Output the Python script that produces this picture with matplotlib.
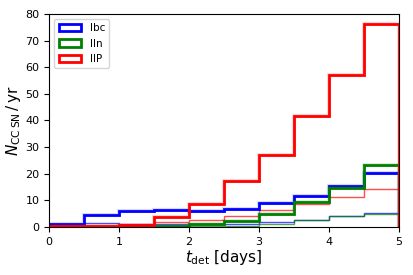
import numpy as np
import matplotlib
matplotlib.use('Agg')
import matplotlib.pyplot as plt

# bin edges for detection time (days)
edges = np.arange(0, 5.01, 0.5)
centers = 0.5 * (edges[1:] + edges[:-1])

# thick histograms
ibc = [1.1, 4.3, 5.8, 6.3, 5.8, 6.8, 8.8, 11.5, 15.4, 20.1]
iin = [0.1, 0.1, 0.2, 0.5, 1.0, 2.2, 4.8, 9.2, 14.5, 23.1]
iip = [0.2, 0.2, 0.7, 3.6, 8.7, 17.1, 27.2, 41.5, 56.9, 76.2]

# thin histograms
ibc_thin = [1.1, 1.4, 0.9, 0.9, 1.1, 1.2, 1.8, 2.5, 4.0, 5.1]
iin_thin = [0.0, 0.0, 0.1, 0.2, 0.3, 0.5, 0.9, 2.5, 3.9, 5.0]
iip_thin = [0.0, 0.1, 0.3, 1.8, 2.6, 4.2, 6.2, 8.7, 11.2, 14.2]

labels = ['Ibc', 'IIn', 'IIP']
colors = ['blue', 'green', 'red']

fig = plt.figure(figsize=(4.13, 2.75), dpi=100)
ax = fig.add_axes([0.119, 0.175, 0.847, 0.774])

for vals, c in zip([ibc_thin, iin_thin, iip_thin], colors):
    ax.hist(centers, bins=edges, weights=vals, histtype='step', color=c, lw=1, alpha=0.7)
for vals, c, lab in zip([ibc, iin, iip], colors, labels):
    ax.hist(centers, bins=edges, weights=vals, histtype='step', color=c, lw=3, alpha=0.15)
    ax.hist(centers, bins=edges, weights=vals, histtype='step', color=c, lw=2, label=lab)

ax.set_xlim(0, 5)
ax.set_ylim(0, 80)
ax.tick_params(labelsize=8)
ax.set_xlabel(r'$t_{\rm det}$ [days]', fontsize=11, labelpad=1)
ax.set_ylabel(r'$N_{\rm CC\,SN}\,/\,{\rm yr}$', fontsize=11, labelpad=2)
ax.legend(loc='upper left', fontsize=7.5, handlelength=2.2)

plt.savefig('out.png', dpi=100)
